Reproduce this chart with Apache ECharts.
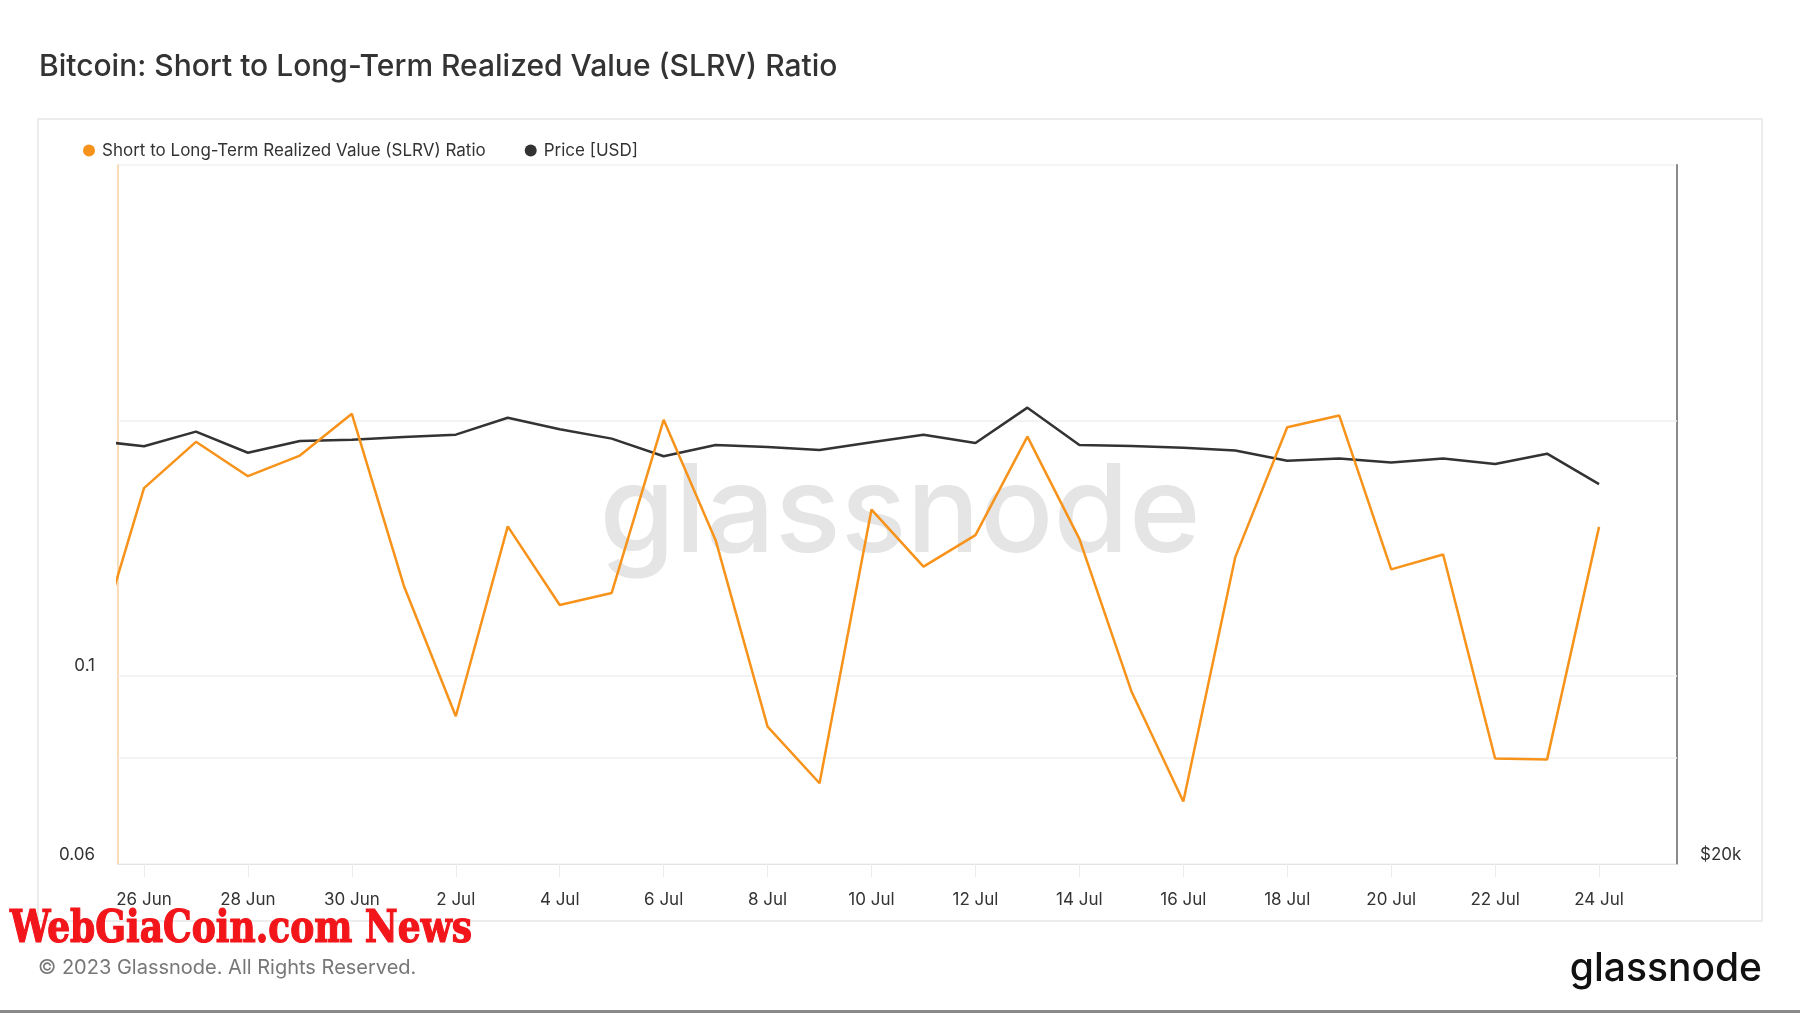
<!DOCTYPE html>
<html>
<head>
<meta charset="utf-8">
<script src="https://cdn.jsdelivr.net/npm/echarts@6/dist/echarts.min.js"></script>
<style>
  html, body { margin: 0; padding: 0; background: #ffffff; }
  #chart { width: 1800px; height: 1013px; }
</style>
</head>
<body>
<div id="chart"></div>
<script>
// ---- data ----
const dates = [
  '2023-06-25','2023-06-26','2023-06-27','2023-06-28','2023-06-29','2023-06-30',
  '2023-07-01','2023-07-02','2023-07-03','2023-07-04','2023-07-05','2023-07-06',
  '2023-07-07','2023-07-08','2023-07-09','2023-07-10','2023-07-11','2023-07-12',
  '2023-07-13','2023-07-14','2023-07-15','2023-07-16','2023-07-17','2023-07-18',
  '2023-07-19','2023-07-20','2023-07-21','2023-07-22','2023-07-23','2023-07-24'
];
const slrvRatio = [
  0.1037, 0.1664, 0.1887, 0.1719, 0.1818, 0.2036,
  0.1277, 0.0896, 0.150, 0.1212, 0.1252, 0.2003,
  0.1445, 0.0871, 0.0747, 0.157, 0.1345, 0.1465,
  0.1914, 0.145, 0.0959, 0.0711, 0.138, 0.1963,
  0.2027, 0.1335, 0.139, 0.0799, 0.0797, 0.1498
];
const priceUsd = [
  30440, 30264, 30706, 30070, 30424, 30461,
  30544, 30614, 31134, 30778, 30494, 29966,
  30300, 30244, 30154, 30384, 30614, 30364,
  31446, 30300, 30272, 30222, 30140, 29830,
  29898, 29780, 29898, 29734, 30042, 29150
];
const xTickDates = [
  '2023-06-26','2023-06-28','2023-06-30','2023-07-02','2023-07-04','2023-07-06',
  '2023-07-08','2023-07-10','2023-07-12','2023-07-14','2023-07-16','2023-07-18',
  '2023-07-20','2023-07-22','2023-07-24'
];
const xRange = ['2023-06-25T12:00:00Z', '2023-07-25T12:00:00Z'];
const slrvRange = [0.06, 0.4];
const priceRange = [20000, 40000];
const slrvGridValues = [0.08, 0.1, 0.2];
const monthNames = ['Jan','Feb','Mar','Apr','May','Jun','Jul','Aug','Sep','Oct','Nov','Dec'];

const FONT = 'Inter, "Noto Sans", sans-serif';
const ts = d => Date.parse(d.length > 10 ? d : d + 'T00:00:00Z');
const fmtDate = v => { const d = new Date(v); return d.getUTCDate() + ' ' + monthNames[d.getUTCMonth()]; };

const slrvData = dates.map((d, i) => [ts(d), slrvRatio[i]]);
const priceData = dates.map((d, i) => [ts(d), priceUsd[i]]);
const tickValues = xTickDates.map(ts);

const chart = echarts.init(document.getElementById('chart'), null, { renderer: 'canvas' });

const option = {
  backgroundColor: '#ffffff',
  animation: false,
  textStyle: { fontFamily: FONT },
  title: {
    text: 'Bitcoin: Short to Long-Term Realized Value (SLRV) Ratio',
    left: 34, top: 47,
    textStyle: { fontFamily: FONT, fontSize: 30, fontWeight: 500, color: '#333333' }
  },
  legend: {
    left: 78, top: 137,
    icon: 'circle', itemWidth: 16, itemHeight: 12, itemGap: 39,
    data: ['Short to Long-Term Realized Value (SLRV) Ratio', 'Price [USD]'],
    textStyle: { fontFamily: FONT, fontSize: 17, color: '#333333' }
  },
  grid: {
    left: 118, right: 123, top: 165, bottom: 149,
    show: true, borderColor: '#ebebeb', borderWidth: 1, backgroundColor: 'transparent'
  },
  xAxis: {
    type: 'value',
    min: ts(xRange[0]), max: ts(xRange[1]),
    axisLine: { show: true, lineStyle: { color: '#e3e3e3', width: 1 } },
    axisTick: { show: true, length: 13, lineStyle: { color: '#ececec', width: 1 }, customValues: tickValues },
    axisLabel: {
      customValues: tickValues, formatter: fmtDate,
      margin: 27, fontSize: 17, color: '#333333', fontFamily: FONT
    },
    splitLine: { show: false }
  },
  yAxis: [
    {
      type: 'log', logBase: 10, position: 'left',
      min: slrvRange[0], max: slrvRange[1],
      axisLine: { show: true, lineStyle: { color: '#fbd3a4', width: 1.5 } },
      axisTick: { show: false },
      axisLabel: {
        showMaxLabel: false, showMinLabel: true,
        formatter: v => String(+(+v).toPrecision(2)),
        margin: 23, fontSize: 17, color: '#333333', fontFamily: FONT,
        verticalAlign: 'bottom', lineHeight: 19
      },
      splitLine: { show: false }
    },
    {
      type: 'log', logBase: 10, position: 'right',
      min: priceRange[0], max: priceRange[1],
      axisLine: { show: true, lineStyle: { color: '#8a8a8a', width: 2 } },
      axisTick: { show: false },
      axisLabel: {
        showMaxLabel: false, showMinLabel: true,
        formatter: v => '$' + Math.round(v / 1000) + 'k',
        margin: 23, fontSize: 17, color: '#333333', fontFamily: FONT,
        verticalAlign: 'bottom', lineHeight: 19
      },
      splitLine: { show: false }
    }
  ],
  graphic: [
    {
      type: 'rect', z: -10, silent: true,
      shape: { x: 38, y: 119, width: 1724, height: 802 },
      style: { fill: 'none', stroke: '#e6e6e6', lineWidth: 1.5 }
    },
    {
      type: 'text', z: 0, silent: true,
      style: { text: 'glassnode', x: 900, y: 515, align: 'center', verticalAlign: 'middle',
               font: '500 122px Inter, sans-serif', fill: '#e5e5e5' }
    },
    {
      type: 'text', silent: true,
      style: { text: '\u00a9 2023 Glassnode. All Rights Reserved.', x: 38, y: 968,
               verticalAlign: 'middle', font: '400 20px Inter, sans-serif', fill: '#777777' }
    },
    {
      type: 'text', silent: true,
      style: { text: 'glassnode', x: 1762, y: 969, align: 'right', verticalAlign: 'middle',
               font: '500 39px Inter, sans-serif', fill: '#111111' }
    },
    {
      type: 'text', silent: true, z: 100,
      x: 10, y: 931, scaleX: 0.91, scaleY: 1,
      style: { text: 'WebGiaCoin.com News', x: 0, y: 0, verticalAlign: 'middle',
               font: 'bold 44px "DejaVu Serif Condensed", "DejaVu Serif", serif',
               fill: '#f2161b', stroke: '#f2161b', lineWidth: 1.2 }
    },
    {
      type: 'rect', silent: true,
      shape: { x: 0, y: 1010, width: 1800, height: 3 },
      style: { fill: '#8a8a8a' }
    }
  ],
  series: [
    {
      name: 'Price [USD]',
      type: 'line', yAxisIndex: 1, xAxisIndex: 0,
      data: priceData, showSymbol: false, symbol: 'none',
      lineStyle: { color: '#333333', width: 2.5 },
      itemStyle: { color: '#333333' },
      z: 3
    },
    {
      name: 'Short to Long-Term Realized Value (SLRV) Ratio',
      type: 'line', yAxisIndex: 0, xAxisIndex: 0,
      data: slrvData, showSymbol: false, symbol: 'none',
      lineStyle: { color: '#f7931a', width: 2.5 },
      itemStyle: { color: '#f7931a' },
      z: 4,
      markLine: {
        silent: true, symbol: ['none', 'none'], z: 1,
        label: { show: false },
        lineStyle: { color: '#efefef', type: 'solid', width: 1.5 },
        data: slrvGridValues.map(v => ({ yAxis: v }))
      }
    }
  ]
};
chart.setOption(option);
</script>
</body>
</html>
